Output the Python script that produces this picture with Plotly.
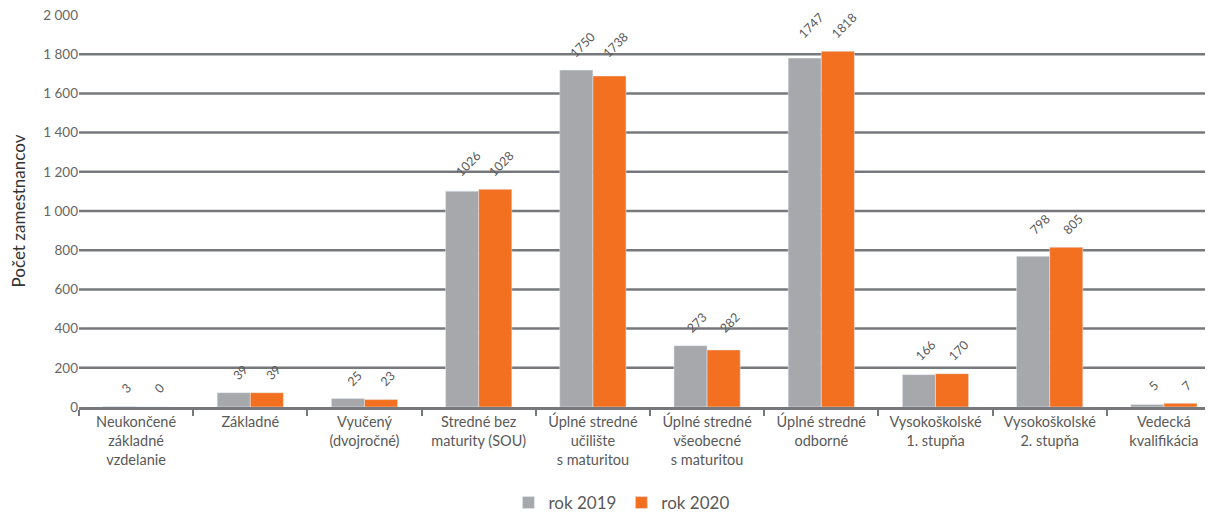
import plotly.graph_objects as go

categories = [
    "Neukončené<br>základné<br>vzdelanie",
    "Základné",
    "Vyučený<br>(dvojročné)",
    "Stredné bez<br>maturity (SOU)",
    "Úplné stredné<br>učilište<br>s maturitou",
    "Úplné stredné<br>všeobecné<br>s maturitou",
    "Úplné stredné<br>odborné",
    "Vysokoškolské<br>1. stupňa",
    "Vysokoškolské<br>2. stupňa",
    "Vedecká<br>kvalifikácia",
]
# bar heights as drawn in the picture
bars_2019 = [3, 73, 43, 1101, 1719, 313, 1780, 165, 769, 13]
bars_2020 = [0, 73, 38, 1111, 1689, 291, 1815, 170, 815, 19]
# value labels as printed in the picture
labels_2019 = [3, 39, 25, 1026, 1750, 273, 1747, 166, 798, 5]
labels_2020 = [0, 39, 23, 1028, 1738, 282, 1818, 170, 805, 7]
y_ticks = [0, 200, 400, 600, 800, 1000, 1200, 1400, 1600, 1800, 2000]

GREY = "#a7a8ab"
ORANGE = "#f37021"
TXT = "#595959"
GRID = "#77787b"
FONT = "Lato"

fig = go.Figure()
fig.add_trace(go.Bar(x=categories, y=bars_2019, name="rok 2019", marker_color=GREY))
fig.add_trace(go.Bar(x=categories, y=bars_2020, name="rok 2020", marker_color=ORANGE))

annotations = []
for i, c in enumerate(categories):
    base = max(bars_2019[i], bars_2020[i])
    for lab, dx in ((labels_2019[i], -10), (labels_2020[i], 23)):
        annotations.append(dict(
            x=c, y=base, xref="x", yref="y", text=str(lab), showarrow=False,
            textangle=-45, xshift=dx, yshift=7, yanchor="bottom",
            font=dict(family=FONT, size=12.5, color=TXT),
        ))

shapes = []
for t in y_ticks[1:-1]:
    shapes.append(dict(type="line", xref="paper", yref="y", x0=0, x1=1, y0=t, y1=t,
                       line=dict(color=GRID, width=2.5), layer="below"))

fig.update_layout(
    width=1213, height=513,
    margin=dict(l=71, r=0, t=7, b=108),
    paper_bgcolor="white", plot_bgcolor="white",
    barmode="group", bargap=0.42, bargroupgap=0,
    separators=", ",
    font=dict(family=FONT, color=TXT, size=14),
    showlegend=True,
    legend=dict(orientation="h", x=0.475, xanchor="center", y=-0.2, yanchor="top",
                font=dict(family=FONT, size=17, color=TXT), itemwidth=30,
                traceorder="normal"),
    annotations=annotations,
    shapes=shapes,
    xaxis=dict(
        type="category", showgrid=False, showline=True, linecolor=GRID, linewidth=2.5,
        ticks="outside", tickson="boundaries", ticklen=6, tickwidth=2, tickcolor=GRID,
        tickfont=dict(family=FONT, size=14.5, color=TXT), tickangle=0,
    ),
    yaxis=dict(
        range=[0, 2000], tickvals=y_ticks, tickformat=",", showgrid=False,
        zeroline=False, showline=False, ticks="", ticklabeloverflow="allow",
        tickfont=dict(family=FONT, size=13.5, color="#666666"),
        title=dict(text="Počet zamestnancov", font=dict(family=FONT, size=17, color="#333333"),
                   standoff=20),
    ),
)

fig.write_html("out.html")
